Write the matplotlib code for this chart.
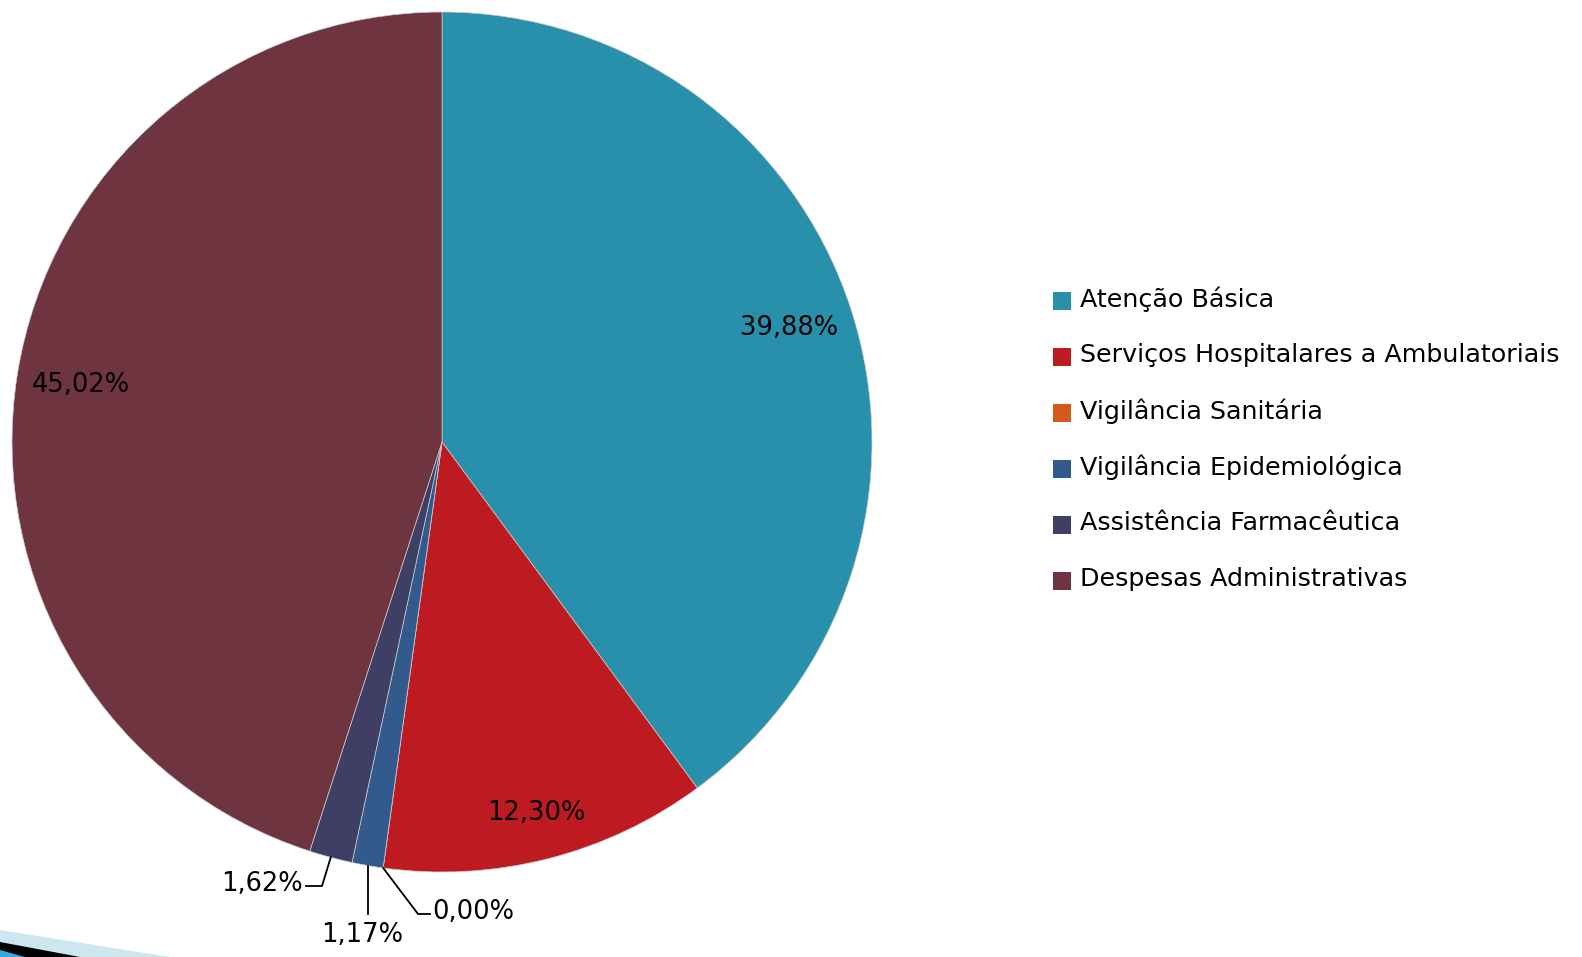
import matplotlib.pyplot as plt
from matplotlib.patches import Rectangle, Polygon
import numpy as np

categorias = ['Atenção Básica', 'Serviços Hospitalares a Ambulatoriais', 'Vigilância Sanitária',
              'Vigilância Epidemiológica', 'Assistência Farmacêutica', 'Despesas Administrativas']
valores = [39.88, 12.30, 0.00, 1.17, 1.62, 45.02]
rotulos = ['39,88%', '12,30%', '0,00%', '1,17%', '1,62%', '45,02%']
cores = ['#2890AA', '#BE1A22', '#D45A1C', '#325A8C', '#3F3F66', '#6E3440']

W, H = 1582, 957
fig = plt.figure(figsize=(W / 100, H / 100), dpi=100)
cx, cy, R = 442, 442, 430
ax = fig.add_axes([(cx - R) / W, (H - cy - R) / H, 2 * R / W, 2 * R / H])

wedges, _ = ax.pie(valores, colors=cores, startangle=90, counterclock=False, radius=1,
                   wedgeprops=dict(linewidth=0.5, edgecolor='#cfcfcf'))
ax.set_xlim(-1, 1)
ax.set_ylim(-1, 1)
ax.set_aspect('equal')
ax.axis('off')

fs = 18.5
# Labels inside big slices
for i in [0, 1, 5]:
    w = wedges[i]
    ang = np.deg2rad((w.theta1 + w.theta2) / 2)
    r = 0.89 if i == 1 else 0.85
    ax.text(r * np.cos(ang), r * np.sin(ang), rotulos[i], ha='center', va='center', fontsize=fs)


def px(x, y):
    return (x - cx) / R, (cy - y) / R


def edge(i):
    w = wedges[i]
    ang = np.deg2rad((w.theta1 + w.theta2) / 2)
    return np.cos(ang), np.sin(ang)


# Leader lines for small slices
lk = dict(color='black', lw=1.3)
# 1,62%
x0, y0 = edge(4)
p1 = px(322, 886)
p2 = px(306, 886)
ax.plot([x0, p1[0], p2[0]], [y0, p1[1], p2[1]], clip_on=False, **lk)
t = px(303, 884)
ax.text(t[0], t[1], rotulos[4], ha='right', va='center', fontsize=fs)
# 1,17%
x0, y0 = edge(3)
p1 = px(367, 914)
ax.plot([x0, x0], [y0, p1[1]], clip_on=False, **lk)
t = px(362, 935)
ax.text(t[0], t[1], rotulos[3], ha='center', va='center', fontsize=fs)
# 0,00%
w = wedges[2]
ang = np.deg2rad(w.theta1)
x0, y0 = np.cos(ang), np.sin(ang)
p1 = px(418, 914)
p2 = px(430, 914)
ax.plot([x0, p1[0], p2[0]], [y0, p1[1], p2[1]], clip_on=False, **lk)
t = px(432, 912)
ax.text(t[0], t[1], rotulos[2], ha='left', va='center', fontsize=fs)

# Legend
ly0, dy = 299, 56
for k, (nome, cor) in enumerate(zip(categorias, cores)):
    y = ly0 + k * dy
    fig.patches.append(Rectangle((1053 / W, 1 - (y + 11) / H), 18 / W, 18 / H,
                                 transform=fig.transFigure, facecolor=cor, edgecolor='none'))
    fig.text(1080 / W, 1 - y / H, nome, ha='left', va='center', fontsize=18.3)

# slide decoration bottom-left
fig.patches.append(Polygon([(0, 0), (0, 1 - 930 / H), (170 / W, 0)], closed=True,
                           transform=fig.transFigure, facecolor='#cde6ef', edgecolor='none'))
fig.patches.append(Polygon([(0, 0), (0, 1 - 942 / H), (80 / W, 0)], closed=True,
                           transform=fig.transFigure, facecolor='black', edgecolor='none'))
fig.patches.append(Polygon([(0, 0), (0, 1 - 950 / H), (25 / W, 0)], closed=True,
                           transform=fig.transFigure, facecolor='#3aa7d6', edgecolor='none'))

fig.savefig('out.png', dpi=100)
